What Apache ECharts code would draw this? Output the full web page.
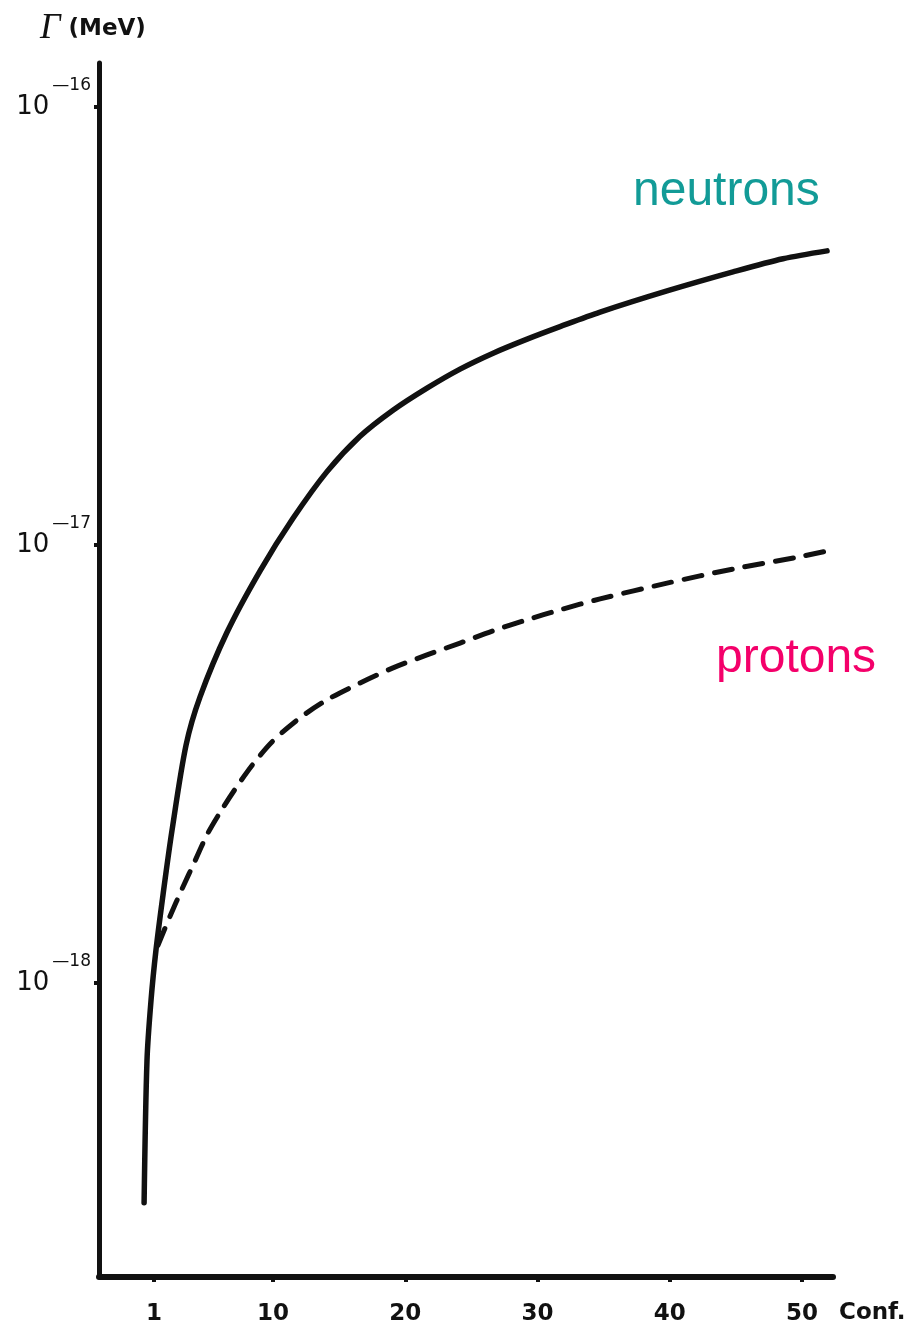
<!DOCTYPE html>
<html>
<head>
<meta charset="utf-8">
<title>Γ vs configuration</title>
<script src="https://cdn.jsdelivr.net/npm/echarts@6/dist/echarts.min.js"></script>
<style>
  html, body { margin: 0; padding: 0; background: #ffffff; }
  #chart { width: 912px; height: 1328px; }
</style>
</head>
<body>
<div id="chart"></div>
<script>
// Width Γ (MeV) as a function of the configuration number
const neutronConf = [0.25, 0.47, 0.775, 1.15, 1.68, 2.36, 3.42, 4.48, 6.52, 9.02, 11.51, 14.08, 16.58, 19.07, 21.64, 24.14, 26.64, 29.21, 31.70, 34.73, 39.79, 44.78, 48.56, 51.89];
const neutronGamma = [3.15e-19, 6.67e-19, 9.14e-19, 1.19e-18, 1.59e-18, 2.23e-18, 3.49e-18, 4.50e-18, 6.32e-18, 8.73e-18, 1.15e-17, 1.47e-17, 1.77e-17, 2.03e-17, 2.28e-17, 2.52e-17, 2.74e-17, 2.95e-17, 3.15e-17, 3.40e-17, 3.80e-17, 4.20e-17, 4.50e-17, 4.69e-17];

const protonConf = [1.30, 2.21, 3.12, 4.10, 5.01, 5.99, 7.13, 8.49, 10.0, 12.04, 14.08, 16.58, 19.07, 21.64, 24.14, 26.64, 29.21, 31.70, 34.73, 39.79, 44.78, 49.84, 52.3];
const protonGamma = [1.22e-18, 1.42e-18, 1.64e-18, 1.90e-18, 2.18e-18, 2.45e-18, 2.77e-18, 3.16e-18, 3.57e-18, 4.03e-18, 4.43e-18, 4.84e-18, 5.24e-18, 5.61e-18, 5.97e-18, 6.37e-18, 6.75e-18, 7.11e-18, 7.53e-18, 8.18e-18, 8.81e-18, 9.40e-18, 9.75e-18];

const confTicks = [1, 10, 20, 30, 40, 50];
const gammaTicks = [1e-18, 1e-17, 1e-16];

const pair = (xs, ys) => xs.map((x, i) => [x, ys[i]]);
const ink = '#111111';
const sans = '"DejaVu Sans", Arial, sans-serif';

const chart = echarts.init(document.getElementById('chart'), null, { renderer: 'canvas' });

chart.setOption({
  animation: false,
  backgroundColor: '#ffffff',
  grid: { left: 99, right: 79, top: 63, bottom: 51, containLabel: false },
  xAxis: {
    type: 'value',
    min: -3.16,
    max: 52.34,
    name: 'Conf.',
    nameLocation: 'end',
    nameGap: 6,
    nameTextStyle: {
      color: ink, fontFamily: sans, fontWeight: 'bold', fontSize: 23,
      verticalAlign: 'top', align: 'left', padding: [25, 0, 0, 0]
    },
    axisLine: { show: true, onZero: false, lineStyle: { color: ink, width: 6, cap: 'round' } },
    axisTick: { show: true, customValues: confTicks, length: 5, lineStyle: { color: ink, width: 4 } },
    axisLabel: {
      customValues: confTicks,
      margin: 26,
      color: ink, fontFamily: sans, fontWeight: 'bold', fontSize: 23
    },
    splitLine: { show: false }
  },
  yAxis: {
    type: 'log',
    logBase: 10,
    min: 2.133e-19,
    max: 1.259e-16,
    axisLine: { show: true, onZero: false, lineStyle: { color: ink, width: 5, cap: 'round' } },
    axisTick: { show: true, customValues: gammaTicks, length: 5, lineStyle: { color: ink, width: 4 } },
    axisLabel: {
      customValues: gammaTicks,
      margin: 8,
      formatter: v => '{b|10}{s|\u2014' + Math.round(-Math.log10(v)) + '}',
      rich: {
        b: { fontFamily: sans, fontSize: 26, fontWeight: 500, color: ink, lineHeight: 30 },
        s: { fontFamily: sans, fontSize: 17, color: ink, lineHeight: 18, padding: [0, 0, 42, 3] }
      }
    },
    splitLine: { show: false }
  },
  series: [
    {
      name: 'neutrons',
      type: 'line',
      data: pair(neutronConf, neutronGamma),
      smooth: 0.3,
      symbol: 'none',
      lineStyle: { color: ink, width: 5.5, cap: 'round', join: 'round' }
    },
    {
      name: 'protons',
      type: 'line',
      data: pair(protonConf, protonGamma),
      smooth: 0.3,
      symbol: 'none',
      lineStyle: { color: ink, width: 5, type: [18, 13], cap: 'round', join: 'round' }
    }
  ],
  graphic: [
    {
      type: 'text', left: 40, top: 11,
      style: {
        text: '{g|Γ}{u| (MeV)}',
        rich: {
          g: { fontFamily: '"Liberation Serif", serif', fontStyle: 'italic', fontSize: 36, fill: ink },
          u: { fontFamily: sans, fontWeight: 'bold', fontSize: 23, fill: ink }
        }
      }
    },
    {
      type: 'text', left: 633, top: 168,
      style: { text: 'neutrons', fontFamily: '"Liberation Sans", Arial, sans-serif', fontSize: 48, fill: '#129b97' }
    },
    {
      type: 'text', left: 716, top: 635,
      style: { text: 'protons', fontFamily: '"Liberation Sans", Arial, sans-serif', fontSize: 48, fill: '#f4006a' }
    }
  ]
});
</script>
</body>
</html>
